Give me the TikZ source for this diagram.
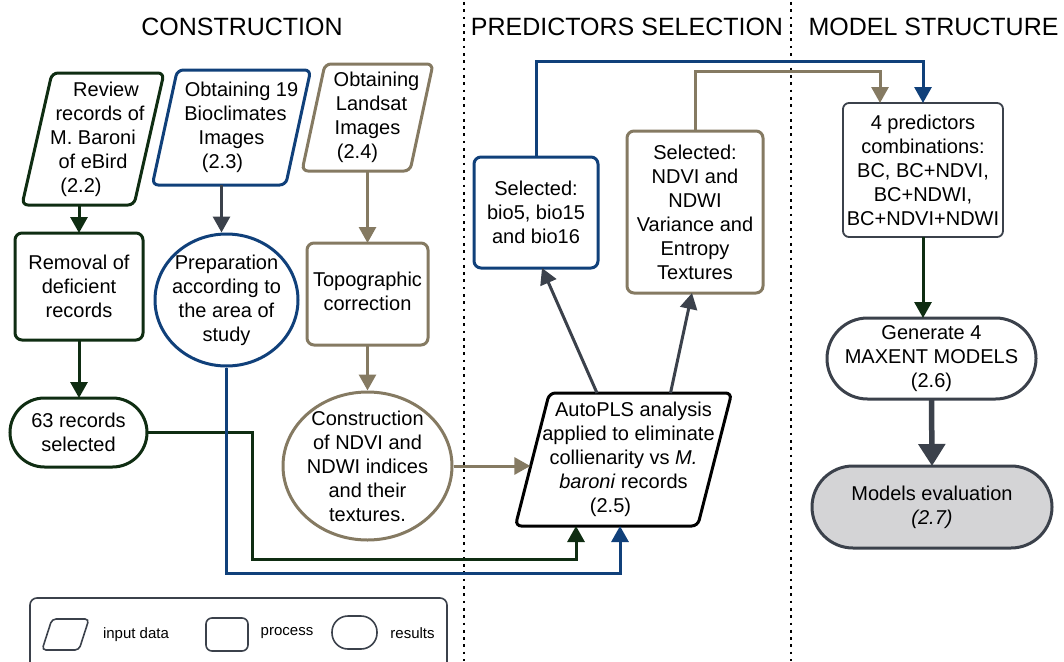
\documentclass[tikz,border=0pt]{standalone}
\usepackage{fontspec}
\setmainfont{Liberation Sans}
\usetikzlibrary{arrows.meta,shapes.geometric}
\definecolor{dkgreen}{HTML}{0F2D12}
\definecolor{dkblue}{HTML}{10407A}
\definecolor{mytan}{HTML}{857A62}
\definecolor{slate}{HTML}{3B414B}
\definecolor{evalgray}{HTML}{D4D4D6}
\newcommand\slantbox[3]{%
  \draw[#3] ([xshift=#2]#1.north west) -- ([xshift=#2]#1.north east) -- ([xshift=-#2]#1.south east) -- ([xshift=-#2]#1.south west) -- cycle;}
\tikzset{
  base/.style={font=\fontsize{20}{24}\selectfont, align=center, inner sep=0pt, outer sep=0pt},
  title/.style={font=\fontsize{25}{30}\selectfont, inner sep=0pt},
  ghost/.style={base, rectangle},
  outl/.style={line width=3pt, rounded corners=6pt},
  procbox/.style={base, draw, rectangle, line width=3pt, rounded corners=7pt},
  ovalshape/.style={draw, ellipse, line width=3pt, inner sep=0pt},
  arr/.style={line width=3pt, -{Triangle[width=17pt,length=16pt]}},
  bigarr/.style={line width=5.5pt, -{Triangle[width=26pt,length=22pt]}},
  sepline/.style={line width=2.7pt, dash pattern=on 2.7pt off 4.6pt},
  legtext/.style={font=\fontsize{15}{18}\selectfont, inner sep=0pt},
}
\begin{document}
\begin{tikzpicture}[x=1pt,y=-1pt]
\useasboundingbox (0,0) rectangle (1064,661);

% titles
\node[title] (t1) at (242,27) {CONSTRUCTION};
\node[title] (t2) at (627,27) {PREDICTORS SELECTION};
\node[title] (t3) at (933.5,27) {MODEL STRUCTURE};

% separators
\draw[sepline] (464,2) -- (464,661);
\draw[sepline] (791,2) -- (791,661);

% input data (parallelograms)
\node[ghost, minimum width=112pt, minimum height=132pt] (review) at (93,139)
  {\hspace*{26pt}Review\\\hspace*{14pt}records of\\M. Baroni\\of eBird\hspace*{14pt}\\(2.2)\hspace*{24pt}};
\slantbox{review}{15pt}{outl, dkgreen}
\node[ghost, minimum width=124pt, minimum height=115pt] (bioclim) at (231.5,127.5)
  {\hspace*{20pt}Obtaining 19\\\hspace*{8pt}Bioclimates\\Images\hspace*{6pt}\\(2.3)\hspace*{18pt}};
\slantbox{bioclim}{12.5pt}{outl, dkblue}
\node[ghost, minimum width=108pt, minimum height=107pt] (landsat) at (367.5,117.5)
  {\hspace*{18pt}Obtaining\\\hspace*{8pt}Landsat\\Images\hspace*{8pt}\\(2.4)\hspace*{20pt}};
\slantbox{landsat}{11.5pt}{outl, mytan}
\node[ghost, minimum width=181pt, minimum height=133pt] (autopls) at (623.5,459.5)
  {\hspace*{20pt}AutoPLS analysis\\\hspace*{10pt}applied to eliminate\\collienarity vs \textit{M.}\hspace*{4pt}\\\textit{baroni} records\hspace*{4pt}\\(2.5)\hspace*{26pt}};
\slantbox{autopls}{17pt}{outl, black}

% processes
\node[procbox, dkgreen, text=black, minimum width=128pt, minimum height=107pt] (removal) at (79,286.5)
  {Removal of\\deficient\\records};
\node[procbox, mytan, minimum width=121pt, minimum height=102pt] (topo) at (367.5,294) {};
\node[base] (topotext) at ([yshift=3pt]topo.center) {Topographic\\correction};
\node[procbox, dkblue, text=black, minimum width=124pt, minimum height=111pt] (selbio) at (536,212.5)
  {Selected:\\bio5, bio15\\and bio16};
\node[procbox, mytan, text=black, minimum width=136pt, minimum height=162pt] (selndvi) at (695,212)
  {Selected:\\NDVI and\\NDWI\\Variance and\\Entropy\\Textures};
\node[procbox, slate, line width=1.8pt, rounded corners=6pt, text=black, minimum width=160pt, minimum height=134pt] (combos) at (923,170)
  {4 predictors\\combinations:\\BC, BC+NDVI,\\BC+NDWI,\\BC+NDVI+NDWI};

% results (ovals and pills)
\node[ovalshape, dkblue, minimum width=143pt, minimum height=132pt] (prep) at (226.5,300) {};
\node[base] (preptext) at (prep.center) {Preparation\\according to\\the area of\\study};
\node[ovalshape, mytan, minimum width=169pt, minimum height=148pt] (constr) at (367.5,466) {};
\node[base] (constrtext) at (constr.center) {Construction\\of NDVI and\\NDWI indices\\and their\\textures.};
\node[procbox, dkgreen, text=black, rounded corners=34.5pt, minimum width=137pt, minimum height=69pt] (records) at (78.5,432.5)
  {63 records\\selected};
\node[procbox, slate, text=black, rounded corners=40.5pt, minimum width=209pt, minimum height=81pt] (generate) at (931.5,358.5)
  {Generate 4\\MAXENT MODELS\\(2.6)};
\node[procbox, slate, fill=evalgray, text=black, rounded corners=41pt, minimum width=240pt, minimum height=82pt] (evaluation) at (932,507)
  {Models evaluation\\\textit{(2.7)}};

% connectors
\draw[arr, dkgreen] (removal.north |- review.south) -- (removal.north);
\draw[arr, slate] ([xshift=-5pt]prep.north |- bioclim.south) -- ([xshift=-5pt]prep.north);
\draw[arr, mytan] (topo.north |- landsat.south) -- (topo.north);
\draw[arr, dkgreen] (removal.south) -- (removal.south |- records.north);
\draw[arr, mytan] (topo.south) -- (topo.south |- constr.north);
\coordinate (gturn) at (252,559);
\draw[arr, dkgreen] (records.east) -| (gturn) -| ([xshift=-47.5pt]autopls.south);
\coordinate (bturn) at (226.5,573);
\draw[arr, dkblue] (prep.south) -- (bturn) -| ([xshift=-3.5pt]autopls.south);
\draw[arr, mytan] (constr.east) -- ([xshift=-2pt]constr.east -| autopls.west);
\draw[arr, slate] ([xshift=-26.5pt]autopls.north) -- ([xshift=6pt]selbio.south);
\draw[arr, slate] ([xshift=47pt]autopls.north) -- ([xshift=-3pt]selndvi.south);
\draw[arr, dkblue] (selbio.north) -- ++(0,-96) -| (combos.north);
\draw[arr, mytan] (selndvi.north) -- ++(0,-60) -| ([xshift=-43pt]combos.north);
\draw[arr, dkgreen] (combos.south) -- (combos.south |- generate.north);
\draw[bigarr, slate] (generate.south) -- (evaluation.north);

% legend
\draw[slate, line width=1.6pt, rounded corners=7pt] (30,598) rectangle (447,690);
\node[ghost, minimum width=37pt, minimum height=31pt] (legin) at (65.5,634.5) {};
\slantbox{legin}{5pt}{slate, line width=1.6pt, rounded corners=4pt}
\node[legtext] (leginlab) at (136,635) {input data};
\node[draw, slate, line width=1.6pt, rounded corners=6pt, minimum width=42pt, minimum height=33pt, inner sep=0pt] (legproc) at (227,634.5) {};
\node[legtext] (legproclab) at (287,633) {process};
\node[draw, slate, line width=1.6pt, rounded corners=16pt, minimum width=45pt, minimum height=33pt, inner sep=0pt] (legres) at (354.5,632.5) {};
\node[legtext] (legreslab) at (412.5,633) {results};
\end{tikzpicture}
\end{document}
